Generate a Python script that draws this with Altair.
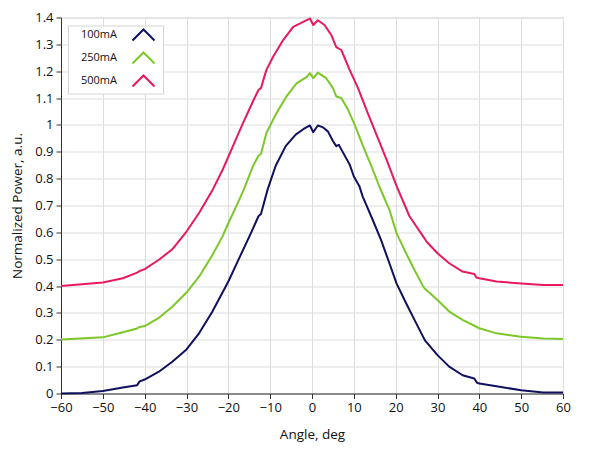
import altair as alt
import pandas as pd

# ---- data ----
series_names = ["100mA", "250mA", "500mA"]
series_colors = ["#10105e", "#7cc828", "#e8195e"]

angle_100 = [-60, -55, -50, -45.2, -41.8, -41.2, -40, -36.6, -33.4, -30, -27, -23.8, -20, -17.4,
             -14.6, -12.8, -12.2, -10.6, -8.7, -6.3, -3.9, -2, -0.5, 0.3, 1.4, 2.5, 3.8, 5, 5.8,
             6.4, 7, 9, 10, 11.3, 12.1, 14.5, 16.5, 18.5, 20.2, 22.5, 24.5, 26.6, 27, 30, 32.8,
             36, 38.8, 39.4, 40, 44.1, 50, 55.3, 60]
power_100 = [0.0, 0.002, 0.009, 0.022, 0.031, 0.045, 0.052, 0.081, 0.118, 0.164, 0.224, 0.305,
             0.417, 0.504, 0.597, 0.66, 0.668, 0.76, 0.847, 0.921, 0.964, 0.985, 0.998, 0.973,
             0.998, 0.992, 0.976, 0.94, 0.921, 0.926, 0.909, 0.853, 0.808, 0.773, 0.734, 0.647,
             0.572, 0.485, 0.41, 0.336, 0.274, 0.21, 0.198, 0.143, 0.10, 0.068, 0.056, 0.041,
             0.037, 0.027, 0.012, 0.004, 0.004]

angle_250 = [-60, -50, -45.2, -41.8, -41.2, -40, -36.6, -33.4, -30, -27, -23.8, -21.4, -20, -17.4,
             -16.3, -14.1, -12.8, -12.2, -10.9, -8.5, -6.1, -3.7, -1.3, -0.5, 0.3, 1.4, 3.4, 5,
             5.8, 7, 8.6, 10.2, 12.2, 14.2, 16.2, 18.5, 20.2, 22.5, 24.5, 26.6, 27, 30, 32.8,
             36, 40, 44.1, 50, 55.3, 60]
power_250 = [0.201, 0.209, 0.228, 0.242, 0.248, 0.251, 0.282, 0.323, 0.376, 0.435, 0.516, 0.585,
             0.634, 0.721, 0.76, 0.847, 0.885, 0.892, 0.97, 1.044, 1.106, 1.155, 1.178, 1.193,
             1.174, 1.195, 1.174, 1.137, 1.106, 1.1, 1.057, 1.001, 0.921, 0.847, 0.767, 0.684,
             0.597, 0.522, 0.46, 0.398, 0.39, 0.348, 0.305, 0.274, 0.243, 0.224, 0.211, 0.205,
             0.203]

angle_500 = [-60, -50, -45.2, -41.8, -41.2, -40, -36.6, -33.4, -30, -27, -23.7, -21.3, -18.9,
             -16.5, -14.1, -12.8, -12.2, -10.9, -9.3, -6.9, -4.5, -2.1, -0.5, 0.3, 1.4, 3.0, 4.6,
             5.8, 7, 9, 11, 13, 15.4, 17.8, 20.2, 23.3, 27, 27.4, 30, 32.8, 36, 38.8, 39.3, 40,
             44.1, 50, 55.3, 60]
power_500 = [0.40, 0.413, 0.429, 0.450, 0.456, 0.463, 0.498, 0.537, 0.603, 0.672, 0.76, 0.835,
             0.921, 1.007, 1.088, 1.13, 1.137, 1.205, 1.254, 1.316, 1.365, 1.384, 1.396, 1.372,
             1.39, 1.372, 1.335, 1.29, 1.279, 1.205, 1.137, 1.057, 0.964, 0.872, 0.773, 0.66,
             0.575, 0.565, 0.522, 0.485, 0.454, 0.445, 0.432, 0.429, 0.417, 0.41, 0.404, 0.404]

x_ticks = [-60, -50, -40, -30, -20, -10, 0, 10, 20, 30, 40, 50, 60]
y_ticks = [0, 0.1, 0.2, 0.3, 0.4, 0.5, 0.6, 0.7, 0.8, 0.9, 1.0, 1.1, 1.2, 1.3, 1.4]

rows = []
for name, angles, powers in [("100mA", angle_100, power_100),
                             ("250mA", angle_250, power_250),
                             ("500mA", angle_500, power_500)]:
    for i, (a, p) in enumerate(zip(angles, powers)):
        rows.append({"series": name, "angle": a, "power": p, "order": i})
df = pd.DataFrame(rows)

FONT = "Open Sans"

chart = alt.Chart(df).mark_line(strokeWidth=2, strokeJoin="round").encode(
    x=alt.X("angle:Q",
            scale=alt.Scale(domain=[-60, 60], nice=False, zero=False),
            axis=alt.Axis(title="Angle, deg", values=x_ticks, format="d",
                          labelFontSize=13, titleFontSize=13.5, titleFontWeight="normal",
                          labelColor="#111111", titleColor="#111111", labelFlush=False,
                          tickSize=5, tickColor="#333333", labelPadding=3, titlePadding=13,
                          domainColor="#333333", gridColor="#dddddd", labelFont=FONT,
                          titleFont=FONT)),
    y=alt.Y("power:Q",
            scale=alt.Scale(domain=[0, 1.4], nice=False),
            axis=alt.Axis(title="Normalized Power, a.u.", values=y_ticks, format=".1~f",
                          labelFontSize=13, titleFontSize=13.5, titleFontWeight="normal",
                          labelColor="#111111", titleColor="#111111", labelFlush=False,
                          tickSize=5, tickColor="#333333", labelPadding=3, titlePadding=10,
                          domainColor="#333333", gridColor="#dddddd", labelFont=FONT,
                          titleFont=FONT)),
    color=alt.Color("series:N",
                    scale=alt.Scale(domain=series_names, range=series_colors),
                    legend=alt.Legend(title=None, orient="none", legendX=7, legendY=8,
                                      fillColor="white", strokeColor="#d4d4d4",
                                      padding=3, rowPadding=4,
                                      symbolType="M-2,1L0,-1L2,1M2.2,0",
                                      symbolSize=121, symbolStrokeWidth=2,
                                      symbolFillColor="transparent",
                                      symbolOffset=66, labelOffset={"expr": "-69"},
                                      labelFontSize=11, labelFont=FONT,
                                      labelColor="#111111")),
    order="order:Q",
).properties(
    width=502, height=376,
    autosize=alt.AutoSizeParams(type="none"),
    padding={"left": 53, "top": 9.5, "right": 18, "bottom": 54},
).configure_view(
    stroke="#333333", strokeWidth=1
).configure(background="white")

chart.save("out.html", embed_options={"renderer": "svg", "actions": False})
